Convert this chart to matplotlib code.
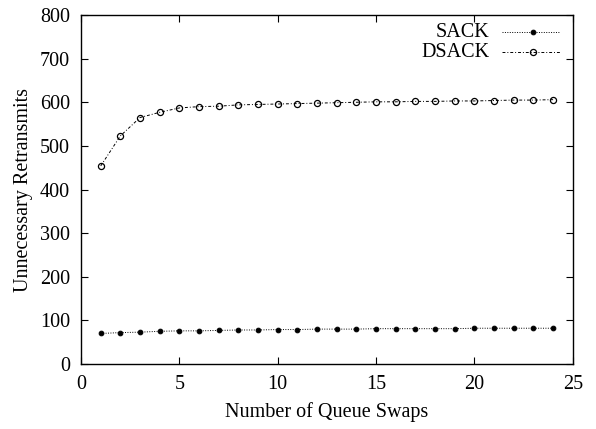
#!/usr/bin/env python3

import matplotlib
matplotlib.use("Agg")
import matplotlib.pyplot as plt

# Data
swaps = list(range(1, 25))
sack = [70, 72, 73, 75, 76, 76, 77, 78, 78, 79, 79, 80,
        80, 80, 81, 81, 81, 81, 81, 82, 82, 82, 82, 82]
dsack = [454, 523, 565, 577, 587, 590, 591, 594, 595, 596, 597, 598,
         599, 600, 601, 601, 602, 602, 603, 603, 604, 605, 605, 606]
labels = ["SACK", "DSACK"]

plt.rcParams["font.family"] = ["Liberation Serif", "DejaVu Serif"]
plt.rcParams["font.size"] = 14.5

fig = plt.figure(figsize=(5.96, 4.29), dpi=100)
ax = fig.add_axes([0.136, 0.1515, 0.825, 0.8135])

sack_style = dict(color="black", linestyle=(0, (1, 1.5)), linewidth=0.7,
                  marker="o", markersize=3.4, markerfacecolor="black",
                  markeredgewidth=0.7)
dsack_style = dict(color="black", linestyle=(0, (3, 2, 1, 2)), linewidth=0.7,
                   marker="o", markersize=4.4, markerfacecolor="none",
                   markeredgewidth=0.9)

ax.plot(swaps, sack, **sack_style)
ax.plot(swaps, dsack, **dsack_style)

ax.set_xlim(0, 25)
ax.set_ylim(0, 800)
ax.set_xticks(range(0, 26, 5))
ax.set_yticks(range(0, 801, 100))
ax.tick_params(direction="in", top=True, right=True, length=5, width=0.8, pad=8)
for s in ax.spines.values():
    s.set_linewidth(1.0)

ax.set_xlabel("Number of Queue Swaps", labelpad=6)
ax.set_ylabel("Unnecessary Retransmits", labelpad=5)

# gnuplot-style key: right-aligned text followed by the sample line
for lab, style, y in zip(labels, [sack_style, dsack_style], [0.951, 0.894]):
    ax.text(0.831, y, lab, transform=ax.transAxes, ha="right", va="center")
    ax.plot([0.856, 0.974], [y, y], transform=ax.transAxes,
            **{k: v for k, v in style.items() if not k.startswith("marker")})
    ax.plot([0.919], [y], transform=ax.transAxes, linestyle="none",
            **{k: v for k, v in style.items() if k.startswith("marker") or k == "color"})

fig.savefig("out.png", dpi=100)
